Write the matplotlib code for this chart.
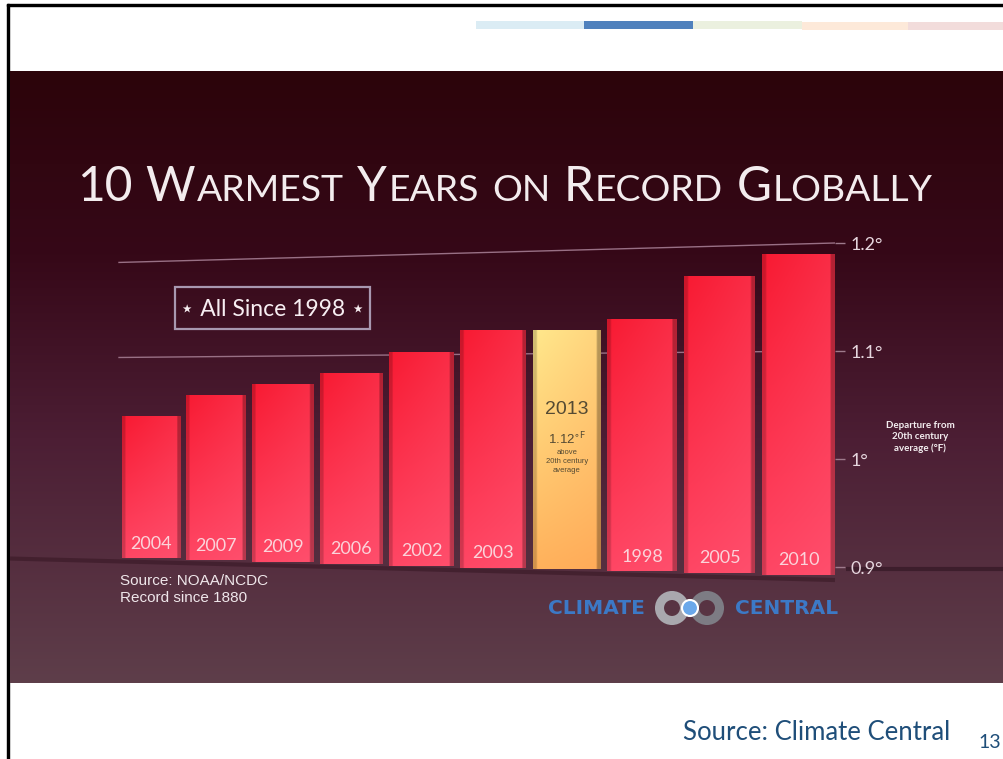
import itertools

import matplotlib
matplotlib.use("Agg")
import matplotlib.pyplot as plt
import numpy as np
from matplotlib.patches import Rectangle, Circle

# ten warmest years, ranked by NOAA/NCDC global anomaly (deg F above 20th c. mean)
years = ["2004", "2007", "2009", "2006", "2002", "2003", "2013", "1998", "2005", "2010"]
anomaly_f = [1.04, 1.06, 1.07, 1.08, 1.10, 1.12, 1.12, 1.13, 1.17, 1.19]
highlight = "2013"
highlight_value = "1.12"
highlight_note = ["above", "20th century", "average"]

tick_values = [0.9, 1.0, 1.1, 1.2]
tick_labels = ["0.9°", "1°", "1.1°", "1.2°"]
grid_levels = [1.1, 1.2]

title = "10 Warmest Years on Record Globally"
badge = "⋆ All Since 1998 ⋆"
axis_note = "Departure from\n20th century\naverage (°F)"
source_note = "Source: NOAA/NCDC\nRecord since 1880"
logo_words = ["CLIMATE", "CENTRAL"]
footer = "Source: Climate Central"
page_no = "13"

W, H = 1004, 759
R = 1.0247                          # bar spacing grows to the right (perspective)
FLOOR0, FLOOR_TILT = 0.908, -0.0017  # the floor slopes down towards the right


def persp(x):
    return R ** np.asarray(x, dtype=float)


def persp_inv(y):
    return np.log(y) / np.log(R)


def vgrad(stops, n=256):
    p = np.linspace(0, 1, n)
    ks = [s[0] for s in stops]
    cols = np.array([s[1] for s in stops], dtype=float) / 255
    return np.stack([np.interp(p, ks, cols[:, c]) for c in range(3)], axis=1)


def bar_image(top, bottom, side, ny=80, nx=40):
    v = vgrad([(0, top), (1, bottom)], ny)[:, None, :]
    u = np.linspace(0, 1, nx)[None, :, None]
    img = v * (1 - 0.25 * u) + np.array(side, dtype=float) / 255 * 0.25 * u
    rim = np.ones(nx)
    rim[:2] = 0.82
    rim[-3:] = 0.72
    return np.clip(img * rim[None, :, None], 0, 1)


fig = plt.figure(figsize=(W / 100, H / 100), dpi=100, facecolor="white")
renderer = fig.canvas.get_renderer()

# page background: border, colour strip, dark panel
bg = fig.add_axes([0, 0, 1, 1], zorder=0)
bg.set_xlim(0, W)
bg.set_ylim(H, 0)
bg.axis("off")
bg.add_patch(Rectangle((7, 4), W, 2.2, color="black"))
bg.add_patch(Rectangle((7, 4), 2.2, H, color="black"))
strip = [(476, 584, "#dbecf4", 21), (584, 693, "#4f81bd", 21), (693, 802, "#ebf0df", 21),
         (802, 908, "#fde9d9", 22), (908, W, "#f2dcdb", 22)]
for x0, x1, c, y0 in strip:
    bg.add_patch(Rectangle((x0, y0), x1 - x0, 8, color=c, lw=0))

panel = vgrad([(0, (44, 4, 10)), (0.3, (54, 8, 24)), (0.6, (76, 30, 52)), (1, (94, 62, 74))])
bg.imshow(panel[:, None, :], extent=(10, W, 683, 71), aspect="auto", zorder=1)
# dark floor strip running out to the right edge behind the 0.9 label
bg.plot([846, W], [569, 569], color=(0.2, 0.09, 0.14), lw=3, alpha=0.7, zorder=2,
        solid_capstyle="butt")

# bar chart
ax = fig.add_axes([100 / W, 1 - 610.2 / H, 735 / W, 421.2 / H], zorder=2)
ax.set_facecolor("none")
ax.set_xscale("function", functions=(persp, persp_inv))
x_lo, x_hi = -0.80, 9.448

x = np.arange(len(years))
vals = np.array(anomaly_f)
bottoms = FLOOR0 + FLOOR_TILT * x

for lvl, drop in zip(grid_levels, [0.006, 0.018]):
    ax.plot([-0.5, x_hi], [lvl - drop, lvl], color=(0.6, 0.44, 0.52), lw=1, zorder=1)

fx = np.array([-2.25, x_hi])
ax.plot(fx, FLOOR0 + FLOOR_TILT * fx - 0.004, color=(0.14, 0.03, 0.07), lw=3, alpha=0.35,
        zorder=2, clip_on=False, solid_capstyle="butt")

red = bar_image((248, 26, 50), (255, 70, 100), (255, 105, 135))
gold = bar_image((255, 232, 140), (255, 178, 92), (255, 150, 80))

bars = ax.bar(x, vals - bottoms, bottom=bottoms, width=0.92, color="none", lw=0, zorder=3)
for i, (rect, yr) in enumerate(zip(bars, years)):
    x0, y0 = rect.get_xy()
    im = ax.imshow(gold if yr == highlight else red,
                   extent=(x0, x0 + rect.get_width(), y0, y0 + rect.get_height()),
                   aspect="auto", interpolation="bilinear", zorder=3)
    im.set_clip_path(rect)
    if yr == highlight:
        dark = (0.33, 0.29, 0.2)
        ax.annotate(yr, (x[i], vals[i]), xytext=(0, -57.5), textcoords="offset points",
                    ha="center", va="center", fontsize=14, color=dark,
                    family="Liberation Sans", zorder=4)
        ax.annotate(highlight_value + r"$^{\circ\mathrm{F}}$", (x[i], vals[i]),
                    xytext=(0, -79), textcoords="offset points", ha="center", va="center",
                    fontsize=9.5, color=dark, family="Liberation Sans", zorder=4)
        for k, line in enumerate(highlight_note):
            ax.annotate(line, (x[i], vals[i]), xytext=(0, -88.5 - 6.6 * k),
                        textcoords="offset points", ha="center", va="center",
                        fontsize=5.5, color=dark, family="Liberation Sans", zorder=4)
    else:
        ax.annotate(yr, (x[i], bottoms[i]), xytext=(0, 10.5), textcoords="offset points",
                    ha="center", va="center", fontsize=13, color="#fbd3da",
                    family="Lato", zorder=4)

ax.set_xlim(x_lo, x_hi)
ax.set_ylim(0.86, 1.25)
ax.set_xticks([])
ax.yaxis.tick_right()
ax.set_yticks(tick_values, tick_labels)
ax.tick_params(axis="y", length=7, width=1, color=(0.62, 0.48, 0.55), pad=4,
               labelcolor=(0.9, 0.84, 0.87), labelsize=13)
for lab in ax.get_yticklabels():
    lab.set_family("Lato")
for s in ax.spines.values():
    s.set_visible(False)


def small_caps(text, x0, x1, baseline, size, ratio=0.78, **kw):
    """Draw text in small caps, scaled so it spans x0..x1 pixels."""
    def place(sz):
        out, x = [], x0
        for word in text.split():
            for low, run in itertools.groupby(word, key=str.islower):
                s = "".join(run).upper()
                t = fig.text(x / W, 1 - baseline / H, s, fontsize=sz * ratio if low else sz,
                             va="baseline", ha="left", **kw)
                x += t.get_window_extent(renderer).width + 0.05 * sz
                out.append(t)
            x += 0.33 * sz
        return out, x - 0.38 * sz

    texts, end = place(size)
    scale = (x1 - x0) / (end - x0)
    for t in texts:
        t.remove()
    place(size * scale)


small_caps(title, 77, 935, 201, 36, color="#f3ecee", family="Lato")

# "All since 1998" badge
bg.add_patch(Rectangle((175, 287), 195, 42, fill=False, ec="#a898b0", lw=1.6, zorder=3))
bg.text(272.5, 309, badge, ha="center", va="center", fontsize=16.5, color="#f7eef2",
        family=["Lato", "DejaVu Sans"], zorder=3)

bg.text(920, 437, axis_note, ha="center", va="center", fontsize=7, color="#f4eef0",
        family="Lato", weight="bold", linespacing=1.3, zorder=3)
bg.text(120, 602, source_note, ha="left", va="baseline", fontsize=11, color="#efe6ea",
        family="Liberation Sans", linespacing=1.25, zorder=3)

# Climate Central logo
blue = "#3c79c6"
bg.text(596, 608, logo_words[0], ha="center", va="center", fontsize=14.5, color=blue,
        family="DejaVu Sans", weight="bold", zorder=3)
bg.text(787, 608, logo_words[1], ha="center", va="center", fontsize=14.5, color=blue,
        family="DejaVu Sans", weight="bold", zorder=3)
bg.add_patch(Circle((707, 608), 12.5, fill=False, ec="#7d7c84", lw=6.5, zorder=3))
bg.add_patch(Circle((672, 608), 12.5, fill=False, ec="#a9a8ae", lw=6.5, zorder=3))
bg.add_patch(Circle((690, 608), 8, fc="#6aa8ea", ec="white", lw=1.5, zorder=4))

# slide footer
bg.text(683, 740, footer, ha="left", va="baseline", fontsize=18.5, color="#1f4e79",
        family="Lato", zorder=3)
bg.text(1001, 748, page_no, ha="right", va="baseline", fontsize=14, color="#1f4e79",
        family="Lato", zorder=3)

fig.savefig("out.png", dpi=100, facecolor="white")
